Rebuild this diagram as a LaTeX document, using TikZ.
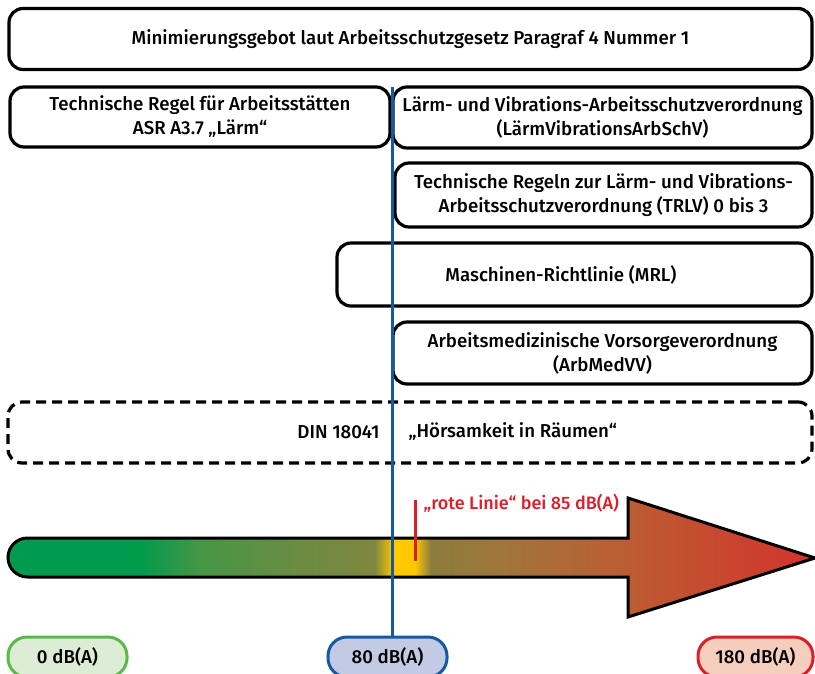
\documentclass[tikz,border=0pt]{standalone}
\usepackage{fontspec}
\setmainfont{Fira Sans}[UprightFont={* Medium}]
\usetikzlibrary{positioning}
\definecolor{gruenA}{RGB}{0,155,76}
\definecolor{gruenB}{RGB}{70,150,70}
\definecolor{olivA}{RGB}{108,140,66}
\definecolor{olivB}{RGB}{128,134,64}
\definecolor{gelb}{RGB}{255,200,0}
\definecolor{braunA}{RGB}{140,124,62}
\definecolor{braunB}{RGB}{160,118,60}
\definecolor{braunC}{RGB}{188,92,50}
\definecolor{rotE}{RGB}{212,50,45}
\definecolor{linieblau}{RGB}{20,90,160}
\definecolor{linierot}{RGB}{220,30,40}
\definecolor{gruenRand}{RGB}{90,185,75}
\definecolor{gruenFill}{RGB}{221,237,213}
\definecolor{blauFill}{RGB}{195,203,228}
\definecolor{rotFill}{RGB}{246,206,190}
\pgfdeclarehorizontalshading{dbverlauf}{100bp}{color(0bp)=(gruenA); color(25bp)=(gruenA);
  color(33.2bp)=(gruenA); color(36.9bp)=(gruenB); color(43.1bp)=(olivA);
  color(47.7bp)=(olivB); color(48.9bp)=(gelb); color(50.2bp)=(gelb);
  color(51.2bp)=(braunA); color(55.5bp)=(braunB); color(63.4bp)=(braunC);
  color(75bp)=(rotE); color(100bp)=(rotE)}
\tikzset{
  kasten/.style={draw, line width=3.2pt, rounded corners=14pt, align=center, inner sep=0pt},
  strichkasten/.style={kasten, dash pattern=on 10pt off 6pt},
  marke/.style={draw, line width=3pt, rounded corners=19pt, minimum width=119pt,
    minimum height=40pt, inner sep=0pt},
}
\begin{document}
\begin{tikzpicture}[x=1pt,y=-1pt,font=\fontsize{18.7}{24}\selectfont]
\useasboundingbox (0,0) rectangle (815,673);
% Regelwerke
\node[kasten, minimum width=803pt, minimum height=61pt] (gebot) at (410.5,39)
  {Minimierungsgebot laut Arbeitsschutzgesetz Paragraf 4 Nummer 1};
\node[kasten, minimum width=380pt, minimum height=60pt] (asr) at (200,117)
  {Technische Regel für Arbeitsstätten\\ASR A3.7 „Lärm“};
\node[kasten, minimum width=419pt, minimum height=61pt] (laerm) at (602.5,117.5)
  {Lärm- und Vibrations-Arbeitsschutzverordnung\\(LärmVibrationsArbSchV)};
\node[kasten, minimum width=417pt, minimum height=64pt] (trlv) at (603.5,195)
  {Technische Regeln zur Lärm- und Vibrations-\\Arbeitsschutzverordnung (TRLV) 0 bis 3};
\node[kasten, minimum width=475pt, minimum height=63pt] (mrl) at (574.5,274.5) {};
\node (mrltext) at (561,275) {Maschinen-Richtlinie (MRL)};
\node[kasten, minimum width=419pt, minimum height=62pt] (arbmed) at (602.5,353)
  {Arbeitsmedizinische Vorsorgeverordnung\\(ArbMedVV)};
\node[strichkasten, minimum width=804pt, minimum height=61pt] (din) at (410,432.5) {};
\node[anchor=east] (dinnr) at (383,432) {DIN 18041};
\node[anchor=west] (dintitel) at (405,432) {„Hörsamkeit in Räumen“};
% Pfeil
\shadedraw[shading=dbverlauf, line width=3pt, line join=miter]
  (628,538) -- (628,498) -- (815,558) -- (628,617) -- (628,577) -- (27.5,577)
  arc (90:270:19.5) -- cycle;
% Pegel
\node[marke, draw=gruenRand, fill=gruenFill] (db0) at (67.5,657) {0 dB(A)};
\node[marke, draw=linieblau, fill=blauFill] (db80) at (387.5,657) {80 dB(A)};
\node[marke, draw=linierot, fill=rotFill, minimum width=115pt] (db180) at (755.5,657) {180 dB(A)};
% Linien
\coordinate (blauoben) at (392,87);
\draw[linieblau, line width=3pt] (blauoben) -- (blauoben |- db80.north);
\coordinate (rotoben) at (415,500);
\coordinate (rotunten) at (415,561);
\draw[linierot, line width=3pt] (rotoben) -- (rotunten);
\node[anchor=west, text=linierot, font=\fontsize{18}{24}\selectfont] (rotelinie) at (420,503)
  {„rote Linie“ bei 85 dB(A)};
\end{tikzpicture}
\end{document}
